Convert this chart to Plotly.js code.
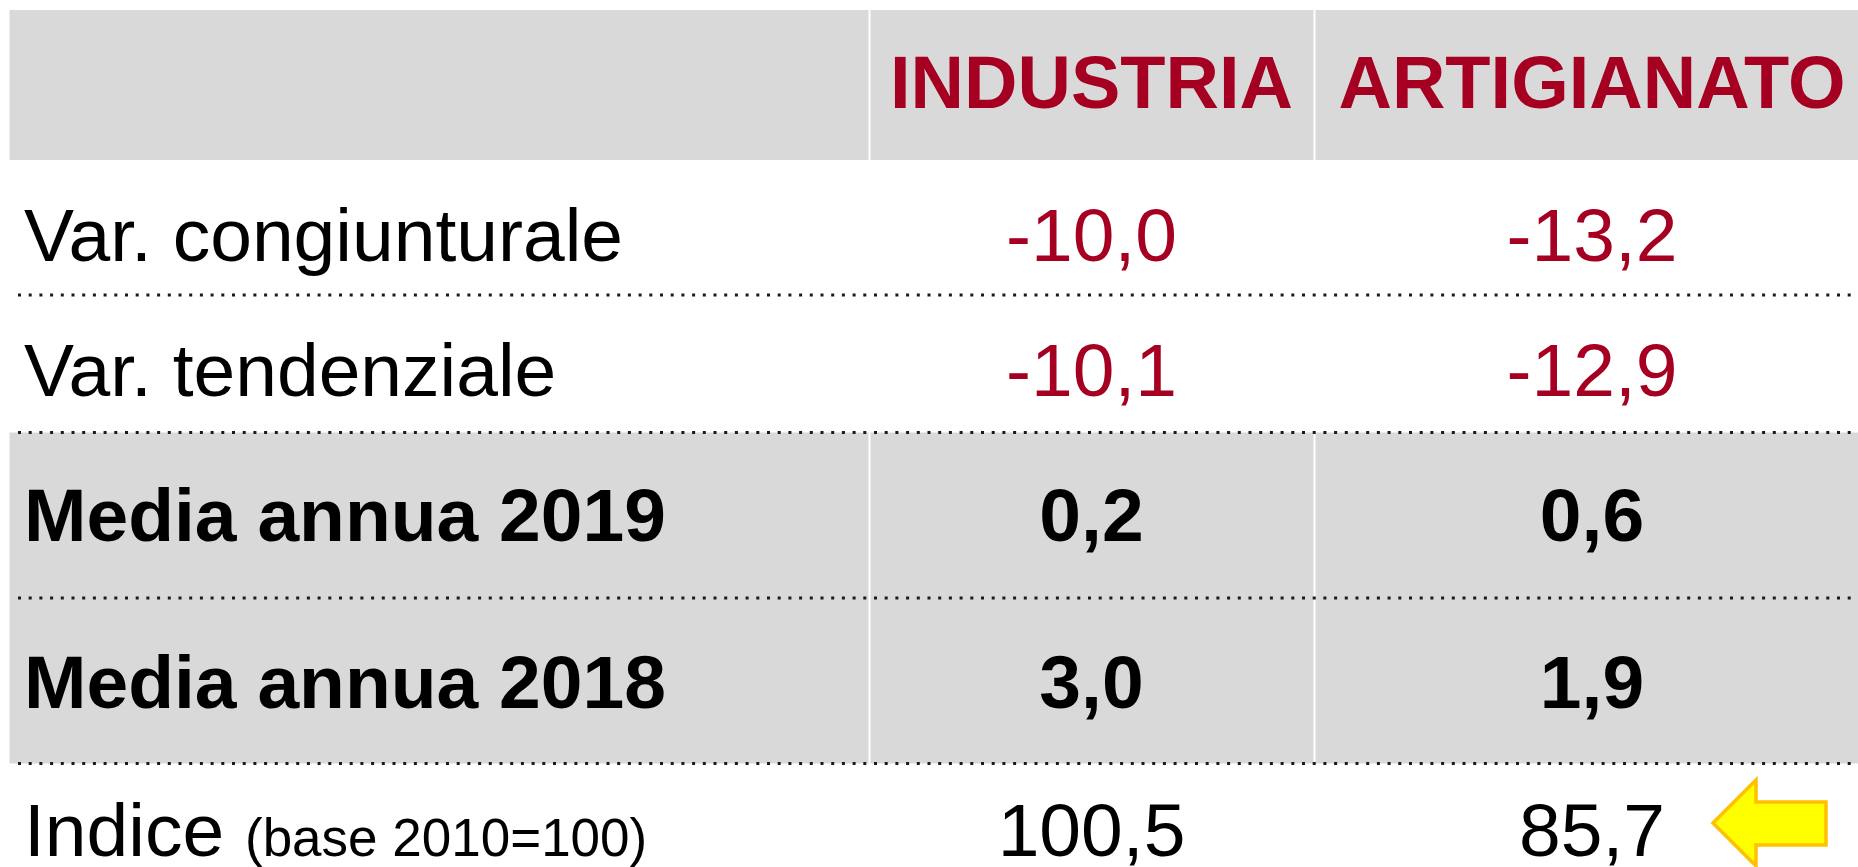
<!DOCTYPE html>
<html>
<head>
<meta charset="utf-8">
<script src="https://cdn.plot.ly/plotly-3.0.1.min.js"></script>
<style>
  html, body { margin: 0; padding: 0; background: #ffffff; overflow: hidden; }
  #chart { width: 1858px; height: 867px; }
</style>
</head>
<body>
<div id="chart"></div>
<script>
// ---------- data ----------
const columnHeaders = ["INDUSTRIA", "ARTIGIANATO"];
const rowLabels = ["Var. congiunturale", "Var. tendenziale", "Media annua 2019", "Media annua 2018", "Indice"];
const indexBaseNote = "(base 2010=100)";
const industria = [-10.0, -10.1, 0.2, 3.0, 100.5];
const artigianato = [-13.2, -12.9, 0.6, 1.9, 85.7];

// ---------- layout geometry (pixels on a 1858x867 canvas) ----------
const W = 1858, H = 867;
const colCenters = [1091.5, 1592];
const dividerX = [869.5, 1314.5];
const labelX = 24;
const headerTop = 10, headerBottom = 160;
const TEXT_SHIFT = 6;
const headerMid = 83.5 + TEXT_SHIFT;
const rowMid = [236.5, 371.5, 516.5, 683.5, 831.5].map(v => v + TEXT_SHIFT);
const dottedY = [295, 432.5, 598, 763.5];
const grayRows = [[432.5, 598], [598, 763.5]];

const RED = "#A50021";
const GRAY = "#D9D9D9";
const FONT = "Liberation Sans, Arial, sans-serif";
const FS = 75;

const fmt = v => v.toFixed(1).replace(".", ",");

const traces = [];

// header
traces.push({
  type: "scatter", mode: "text", hoverinfo: "skip", showlegend: false,
  x: colCenters, y: colCenters.map(() => headerMid),
  text: columnHeaders, textposition: "middle center",
  textfont: { family: FONT, size: 74, color: RED, weight: "bold" }
});

// row labels
const labelStyle = [
  { color: "#000000", weight: "normal" },
  { color: "#000000", weight: "normal" },
  { color: "#000000", weight: "bold" },
  { color: "#000000", weight: "bold" },
  { color: "#000000", weight: "normal" }
];
rowLabels.forEach((lab, i) => {
  let t = lab;
  if (i === rowLabels.length - 1) {
    t = lab + ' <span style="font-size:53px">' + indexBaseNote + '</span>';
  }
  traces.push({
    type: "scatter", mode: "text", hoverinfo: "skip", showlegend: false,
    x: [labelX], y: [rowMid[i]], text: [t], textposition: "middle right",
    textfont: { family: FONT, size: FS, color: labelStyle[i].color, weight: labelStyle[i].weight }
  });
});

// values
const valueColors = [RED, RED, "#000000", "#000000", "#000000"];
const valueWeights = ["normal", "normal", "bold", "bold", "normal"];
[industria, artigianato].forEach((series, c) => {
  series.forEach((v, i) => {
    traces.push({
      type: "scatter", mode: "text", hoverinfo: "skip", showlegend: false,
      x: [colCenters[c]], y: [rowMid[i]], text: [fmt(v)], textposition: "middle center",
      textfont: { family: FONT, size: FS, color: valueColors[i], weight: valueWeights[i] }
    });
  });
});

// ---------- shapes ----------
const shapes = [];
shapes.push({ type: "rect", layer: "below", xref: "x", yref: "y", x0: 9.5, x1: W, y0: headerTop, y1: headerBottom,
  fillcolor: GRAY, line: { width: 0 } });
grayRows.forEach(r => shapes.push({ type: "rect", layer: "below", xref: "x", yref: "y", x0: 9.5, x1: W, y0: r[0], y1: r[1],
  fillcolor: GRAY, line: { width: 0 } }));
dividerX.forEach(x => {
  shapes.push({ type: "line", layer: "below", xref: "x", yref: "y", x0: x, x1: x, y0: headerTop, y1: headerBottom,
    line: { color: "#ffffff", width: 2 } });
  shapes.push({ type: "line", layer: "below", xref: "x", yref: "y", x0: x, x1: x, y0: grayRows[0][0], y1: grayRows[1][1],
    line: { color: "#ffffff", width: 2 } });
});
dottedY.forEach(y => shapes.push({ type: "line", layer: "above", xref: "x", yref: "y", x0: 18, x1: W, y0: y, y1: y,
  line: { color: "#1a1a1a", width: 3, dash: "3px,7.7px" } }));
shapes.push({ type: "path", layer: "above", xref: "x", yref: "y",
  path: "M 1713 823 L 1756 780 L 1756 802 L 1826 802 L 1826 845 L 1756 845 L 1756 866 Z",
  fillcolor: "#FFFF00", line: { color: "#FFC000", width: 3.5 } });

const layout = {
  width: W, height: H,
  margin: { l: 0, r: 0, t: 0, b: 0, pad: 0 },
  paper_bgcolor: "#ffffff", plot_bgcolor: "#ffffff",
  xaxis: { range: [0, W], visible: false, fixedrange: true },
  yaxis: { range: [H, 0], visible: false, fixedrange: true },
  showlegend: false,
  shapes: shapes
};

Plotly.newPlot("chart", traces, layout, { staticPlot: true, displayModeBar: false });
</script>
</body>
</html>
